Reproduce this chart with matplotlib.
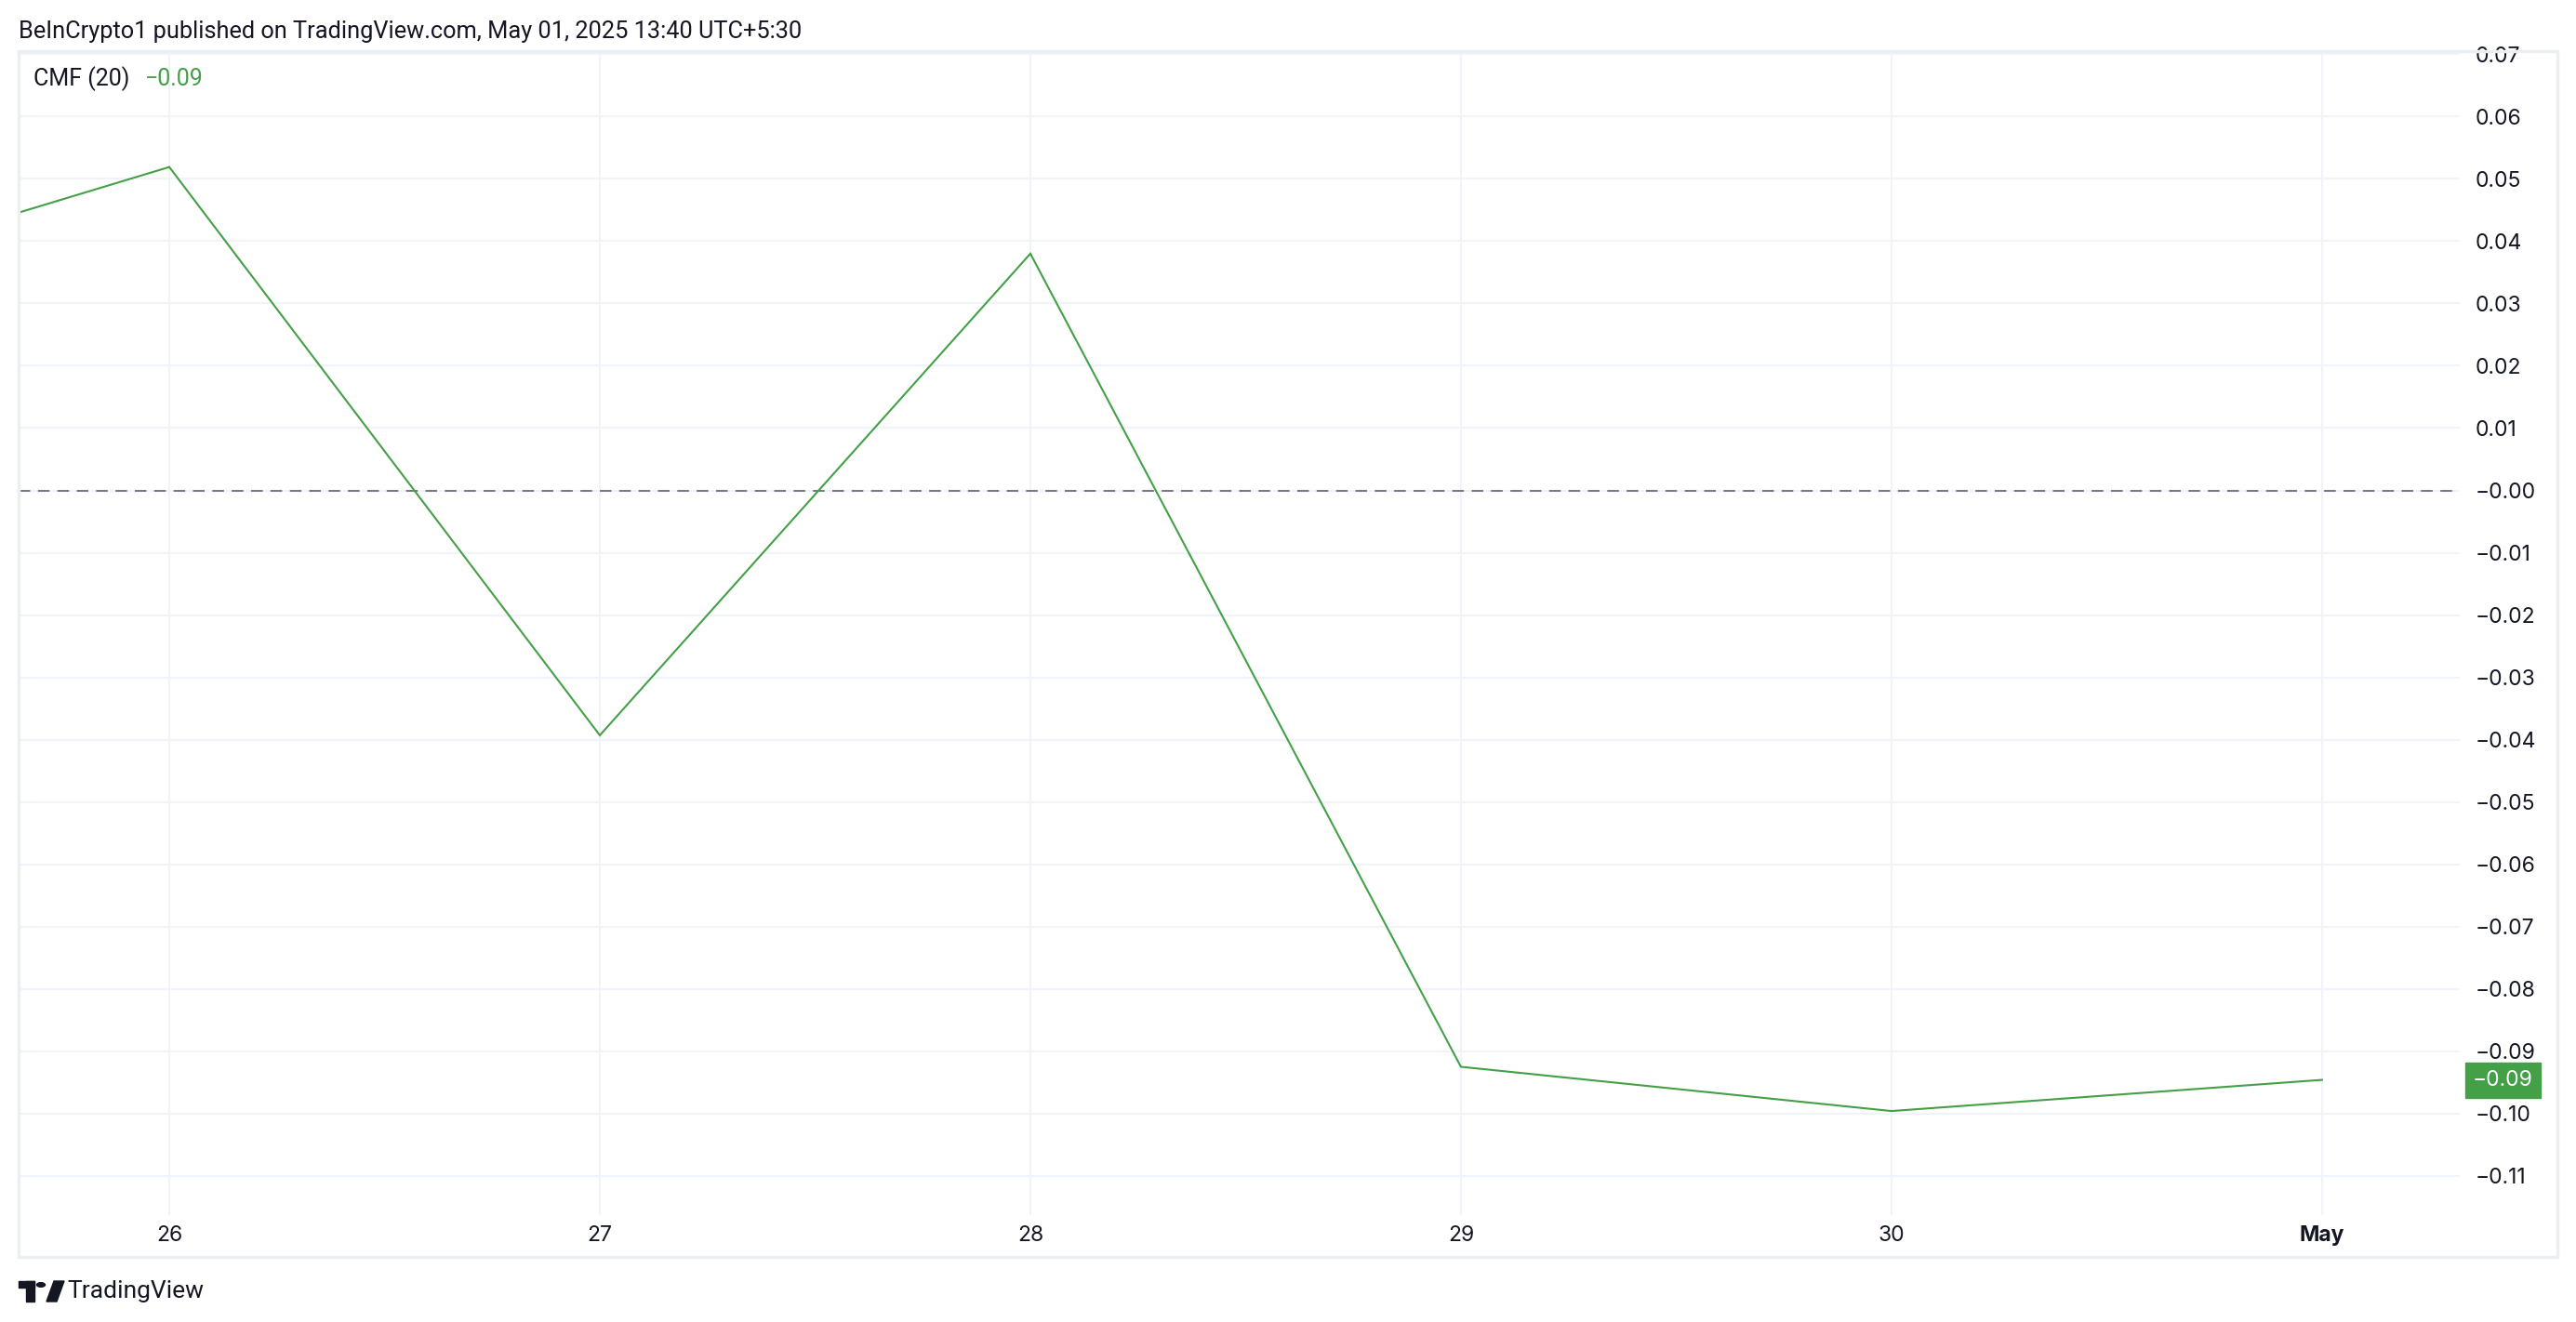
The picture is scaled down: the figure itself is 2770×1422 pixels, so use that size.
"""
CMF (20) indicator pane, TradingView style snapshot
"""

import matplotlib as mpl
mpl.use('Agg')
import matplotlib.pyplot as plt
from matplotlib.patches import Rectangle, Circle, Polygon

# -- data (x = day of month, 31 stands for May 1)
days = [25, 26, 27, 28, 29, 30, 31]
cmf = [0.031, 0.0519, -0.0393, 0.0380, -0.0925, -0.0996, -0.0946]

x_ticks = [26, 27, 28, 29, 30, 31]
x_labels = ['26', '27', '28', '29', '30', 'May']

y_ticks = [0.07, 0.06, 0.05, 0.04, 0.03, 0.02, 0.01, 0.0, -0.01, -0.02, -0.03,
           -0.04, -0.05, -0.06, -0.07, -0.08, -0.09, -0.10, -0.11]
y_labels = ['0.07', '0.06', '0.05', '0.04', '0.03', '0.02', '0.01', '\u22120.00',
            '\u22120.01', '\u22120.02', '\u22120.03', '\u22120.04', '\u22120.05',
            '\u22120.06', '\u22120.07', '\u22120.08', '\u22120.09', '\u22120.10',
            '\u22120.11']

last_label = '\u22120.09'
header = 'BeInCrypto1 published on TradingView.com, May 01, 2025 13:40 UTC+5:30'

green = '#43a047'
text_col = '#131722'
grid_col = '#f0f3fa'
border_col = '#eceff2'

W, H = 2770, 1422
mpl.rcParams['font.family'] = ['Inter', 'DejaVu Sans']

fig = plt.figure(figsize=(W / 100, H / 100), dpi=100)
fig.patch.set_facecolor('white')

# pane in pixel units
left, right, top, bottom = 20, 2645, 55, 1307
ax = fig.add_axes([left / W, 1 - bottom / H, (right - left) / W, (bottom - top) / H])

ax.plot(days, cmf, color=green, lw=1.5, solid_joinstyle='miter', zorder=3)
ax.axhline(0, color='#787b86', lw=1.5, ls=(0, (6, 4)), zorder=2)

ax.set_xlim(25.65, 31.32)
ax.set_ylim(-0.1163, 0.0705)

ax.set_xticks(x_ticks)
ax.set_xticklabels(x_labels)
ax.set_yticks(y_ticks)
ax.set_yticklabels(y_labels)
ax.yaxis.tick_right()
ax.grid(True, color=grid_col, lw=1.5, zorder=0)
ax.tick_params(axis='both', length=0, colors=text_col, labelsize=16.5)
ax.tick_params(axis='y', pad=12)
ax.tick_params(axis='x', pad=8)
for lab in ax.get_yticklabels():
    lab.set_horizontalalignment('left')
ax.get_xticklabels()[-1].set_fontweight('bold')
for s in ax.spines.values():
    s.set_visible(False)

# outer panel border
fig.patches.append(Rectangle((20 / W, 1 - 1352 / H), (2750 - 20) / W, (1352 - 55) / H,
                             transform=fig.transFigure, fill=False,
                             edgecolor=border_col, lw=2.5, zorder=0))

# last value badge on the price scale
ax.annotate(last_label, xy=(1.0, cmf[-1]), xycoords=('axes fraction', 'data'),
            xytext=(14, 0), textcoords='offset pixels', ha='left', va='center',
            color='white', fontsize=16.5,
            bbox=dict(boxstyle='square,pad=0.35', fc=green, ec=green))

# header and legend
fig.text(20 / W, 1 - 34 / H, header, fontsize=18.3, color=text_col, va='center',
         family=['Roboto', 'DejaVu Sans'])
fig.text(36 / W, 1 - 85 / H, 'CMF (20)', fontsize=18, color=text_col, va='center',
         family=['Roboto', 'DejaVu Sans'])
fig.text(156 / W, 1 - 85 / H, last_label, fontsize=18, color=green, va='center',
         family=['Roboto', 'DejaVu Sans'])

# TradingView logo
lx, ly = 20, 1378
fig.patches.append(Rectangle((lx / W, 1 - (ly + 7) / H), 17 / W, 7 / H,
                             transform=fig.transFigure, color=text_col))
fig.patches.append(Rectangle(((lx + 8) / W, 1 - (ly + 22) / H), 9 / W, 22 / H,
                             transform=fig.transFigure, color=text_col))
fig.patches.append(Circle(((lx + 24) / W, 1 - (ly + 4) / H), 4.5 / W,
                          transform=fig.transFigure, color=text_col))
fig.patches.append(Polygon([((lx + 30) / W, 1 - (ly + 22) / H),
                            ((lx + 41) / W, 1 - (ly + 22) / H),
                            ((lx + 49) / W, 1 - ly / H),
                            ((lx + 38) / W, 1 - ly / H)],
                           closed=True, transform=fig.transFigure, color=text_col))
fig.text(72 / W, 1 - 1389 / H, 'TradingView', fontsize=19, color=text_col, va='center',
         family=['Roboto', 'DejaVu Sans'])

fig.savefig('out.png', dpi=100, facecolor='white')
